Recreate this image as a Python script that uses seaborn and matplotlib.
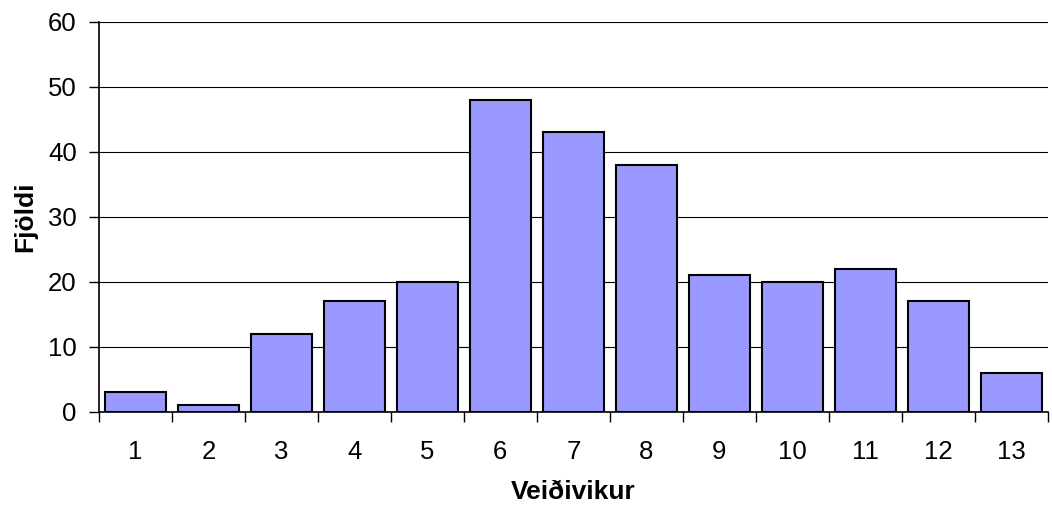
import numpy as np
import pandas as pd
import matplotlib
matplotlib.use("Agg")
import matplotlib.pyplot as plt
import seaborn as sns

# data
vikur = [str(i) for i in range(1, 14)]
fjoldi = [3, 1, 12, 17, 20, 48, 43, 38, 21, 20, 22, 17, 6]

df = pd.DataFrame({"Veiðivikur": vikur, "Fjöldi": fjoldi})

sns.set_style("white")
plt.rcParams['font.family'] = ['Liberation Sans', 'DejaVu Sans']
plt.rcParams['text.color'] = 'black'
plt.rcParams['xtick.color'] = 'black'
plt.rcParams['ytick.color'] = 'black'
plt.rcParams['axes.labelcolor'] = 'black'

fig = plt.figure(figsize=(10.52, 5.09), dpi=100)
ax = fig.add_axes([0.094, 0.191, 0.902, 0.766])

sns.barplot(data=df, x="Veiðivikur", y="Fjöldi", color="#9999FF",
            saturation=1, edgecolor="black", linewidth=1.5, width=0.84, ax=ax)

ax.set_ylim(0, 60)
ax.set_xlim(-0.5, 12.5)
ax.set_yticks(range(0, 61, 10))
ax.yaxis.grid(True, color="black", linewidth=0.8)
ax.set_axisbelow(True)

# ticks between categories, labels at centers
ax.set_xticks(np.arange(-0.5, 13, 1))
ax.set_xticklabels([])
ax.set_xticks(np.arange(0, 13), minor=True)
ax.set_xticklabels(vikur, minor=True)
ax.tick_params(axis="x", which="major", direction="out", length=7, width=1, color="black", bottom=True)
ax.tick_params(axis="x", which="minor", length=0, pad=20, labelsize=18.5)
ax.tick_params(axis="y", direction="out", length=7, width=1, color="black", left=True, labelsize=18.5, pad=9)

for s in ["top", "right"]:
    ax.spines[s].set_visible(False)
for s in ["left", "bottom"]:
    ax.spines[s].set_color("black")
    ax.spines[s].set_linewidth(1.2)

ax.set_xlabel("Veiðivikur", fontsize=19, fontweight="bold", labelpad=12)
ax.set_ylabel("Fjöldi", fontsize=19, fontweight="bold", labelpad=8)

fig.savefig("out.png", dpi=100)
